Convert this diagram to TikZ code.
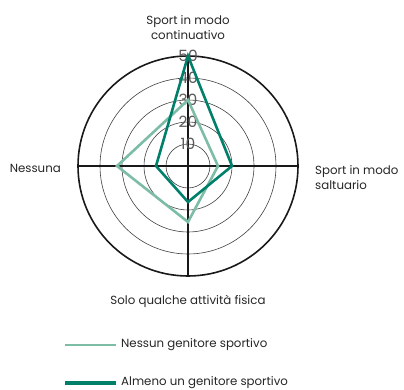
\documentclass[tikz,border=0pt]{standalone}
\usepackage{fontspec}
\setmainfont{Poppins}
\definecolor{darkg}{HTML}{00806A}
\definecolor{lightg}{HTML}{7DBDA6}
\definecolor{tickc}{HTML}{5A5A5A}
\begin{document}
\begin{tikzpicture}[x=1pt,y=-1pt,
  lbl/.style={font=\fontsize{11.8}{15}\selectfont, text=black!85, inner sep=0pt},
  tick/.style={font=\fontsize{15.5}{15.5}\selectfont, text=tickc, inner sep=0pt},
  ring/.style={draw=black!75, line width=0.6pt},
  series/.style={line width=2.6pt, line join=miter}]
\useasboundingbox (0,0) rectangle (404,390);
\coordinate (C) at (188,166);
% rings
\foreach \r in {1,2,3,4} { \draw[ring] (C) circle[radius=22*\r]; }
\draw[line width=1.6pt, black!90] (C) circle[radius=110];
% axes
\coordinate (T) at (188,56);
\coordinate (B) at (188,276);
\coordinate (L) at (78,166);
\coordinate (R) at (298,166);
\draw[line width=1.8pt, black!90] (L) -- (R);
\draw[line width=1.8pt, black!90] (T) -- (B);
% tick labels
\foreach \v/\r in {10/22,20/44,30/66,40/88,50/110} {
  \node[tick] (t\v) at (188,166-\r) {\v};
}
% series: light (Nessun genitore sportivo)
\coordinate (a1) at (188,100);
\coordinate (a2) at (218,166);
\coordinate (a3) at (188,222);
\coordinate (a4) at (117,166);
\draw[series, lightg] (a1) -- (a2) -- (a3) -- (a4) -- cycle;
% series: dark (Almeno un genitore sportivo)
\coordinate (b1) at (188,56);
\coordinate (b2) at (232,166);
\coordinate (b3) at (188,202);
\coordinate (b4) at (156,166);
\draw[series, darkg] (b1) -- (b2) -- (b3) -- (b4) -- cycle;
% axis labels
\node[lbl, align=center] (ltop) at (188,28) {Sport in modo\\continuativo};
\node[lbl, align=left, anchor=west] (lright) at (315,178) {Sport in modo\\saltuario};
\node[lbl, anchor=east] (lleft) at (61,168) {Nessuna};
\node[lbl] (lbot) at (188,301) {Solo qualche attività fisica};
% legend
\coordinate (g1s) at (65,345);
\coordinate (g1e) at (116,345);
\draw[lightg, line width=2.8pt] (g1s) -- (g1e);
\node[lbl, anchor=west] (g1) at (121,345) {Nessun genitore sportivo};
\coordinate (g2s) at (65,383);
\coordinate (g2e) at (116,383);
\draw[darkg, line width=3.4pt] (g2s) -- (g2e);
\node[lbl, anchor=west] (g2) at (121,383) {Almeno un genitore sportivo};
\end{tikzpicture}
\end{document}
